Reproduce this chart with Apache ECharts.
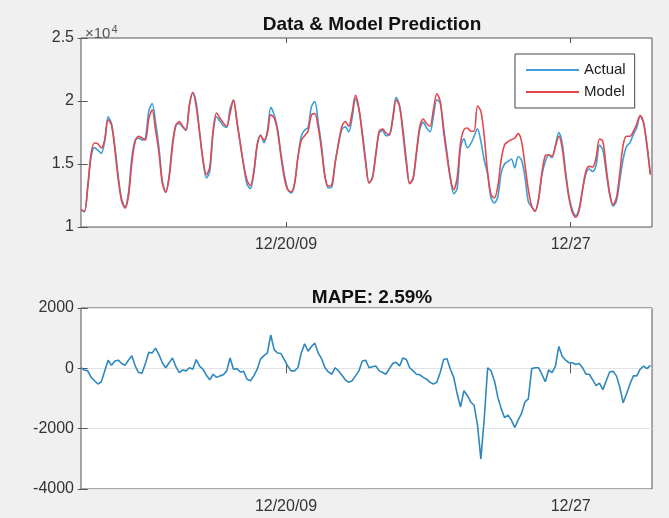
<!DOCTYPE html>
<html>
<head>
<meta charset="utf-8">
<title>Data & Model Prediction</title>
<script src="https://cdn.jsdelivr.net/npm/echarts@6/dist/echarts.min.js"></script>
<style>
  body { margin: 0; background: #f0f0f0; }
  #chart { width: 669px; height: 518px; }
</style>
</head>
<body>
<div id="chart"></div>
<script>
// samples every 2 hours, hour 0 = 12/15/09 00:00
var startHour = -1;
var stepHours = 2;

// x tick positions (hours) and their labels
var tickHours = [120, 288];
var tickLabels = ['12/20/09', '12/27'];

// electricity load (one row per day)
var actual = [
    11400, 11200, 13150, 15600, 16300, 16100, 15850, 16850, 18750, 18200, 16400, 14000,
    12200, 11600, 12700, 15500, 16900, 17050, 16900, 17050, 19200, 19800, 18300, 16300,
    13650, 12770, 14050, 16700, 18100, 18200, 17950, 17650, 19700, 20650, 19850, 17550,
    15300, 13900, 14400, 17500, 18750, 18400, 18050, 17900, 19400, 20050, 18400, 16550,
    14850, 13400, 13050, 14250, 16500, 17300, 16700, 17600, 19500, 18900, 17800, 15850,
    14150, 13000, 12700, 13350, 15500, 17200, 17700, 17900, 19550, 19950, 18300, 16400,
    14000, 13100, 13150, 15100, 16600, 17750, 17950, 17550, 18650, 20200, 19350, 17550,
    15350, 13500, 13950, 15800, 17500, 17650, 17250, 17300, 18700, 20300, 19650, 17800,
    15350, 13450, 13800, 15800, 17800, 18300, 17850, 17550, 18800, 20100, 19850, 17900,
    15900, 13850, 12650, 13050, 16300, 17000, 16300, 16600, 17200, 17800, 16800, 15300,
    14200, 12300, 11900, 12400, 14300, 15000, 15200, 15400, 14700, 15600, 15300, 14000,
    12000, 11600, 11250, 12200, 14100, 15200, 15700, 15500, 16500, 17500, 16650, 14400,
    12450, 11350, 10900, 11500, 12950, 14200, 14600, 14400, 14900, 16500, 16100, 14300,
    12600, 11650, 12050, 13700, 15400, 16400, 16700, 17350, 17900, 18800, 18300, 16500, 14250
];

var model = [
    11380, 11250, 13230, 15870, 16670, 16600, 16270, 16900, 18500, 18100, 16140, 13760,
    12040, 11500, 12430, 15080, 16800, 17200, 17060, 16900, 18600, 19300, 17700, 15900,
    13490, 12750, 13890, 16400, 18070, 18360, 18000, 17720, 19700, 20690, 19580, 17460,
    15340, 14150, 14760, 17720, 19050, 18650, 18250, 18000, 19050, 20100, 18400, 16670,
    14950, 13700, 13280, 14420, 16530, 17250, 16880, 17460, 18900, 18650, 17590, 15610,
    13890, 12960, 12800, 13440, 15480, 16880, 17250, 17600, 18900, 19000, 17900, 16100,
    14000, 13230, 13360, 15080, 16670, 18000, 18360, 18000, 19050, 20450, 19440, 17330,
    15080, 13490, 13890, 15740, 17600, 17780, 17460, 17330, 18520, 20100, 19580, 17460,
    15080, 13440, 13890, 16000, 18000, 18570, 18200, 18000, 19310, 20580, 19970, 17590,
    15610, 13890, 12960, 13890, 16670, 17720, 17860, 17600, 17600, 19600, 19200, 17200,
    14290, 12570, 12300, 13230, 15340, 16530, 16770, 16930, 17060, 17410, 16800, 14950,
    12960, 11640, 11240, 12170, 14290, 15660, 15740, 15610, 16400, 17200, 16270, 14150,
    12300, 11160, 10770, 11320, 12960, 14420, 14810, 14760, 15480, 16980, 16800, 14680,
    12700, 11770, 12300, 14290, 16530, 17200, 17200, 17590, 18170, 18840, 18250, 16530, 14150
];

// prediction error
var error = [
    20, -55, -85, -300, -410, -520, -445, -85, 270, 100, 240, 270,
    160, 100, 270, 420, 75, -140, -160, 160, 530, 510, 670, 455,
    185, 20, 185, 345, 55, -140, -55, -85, 20, -30, 290, 75,
    -30, -230, -380, -195, -300, -250, -215, -85, 345, -30, -10, -120,
    -100, -360, -410, -250, -30, 315, 420, 510, 1105, 620, 510, 490,
    290, 75, -85, -85, 20, 510, 815, 565, 725, 835, 510, 315,
    20, -120, -195, 20, -85, -230, -380, -465, -410, -250, -85, 240,
    270, 20, 55, 75, -85, -140, -195, -10, 160, 205, 75, 345,
    290, 20, -85, -195, -215, -300, -360, -465, -520, -465, -140, 290,
    315, -30, -300, -845, -1280, -740, -900, -1115, -1225, -1875, -3000, -1660,
    20, -85, -410, -955, -1335, -1635, -1550, -1715, -1960, -1715, -1495, -1115,
    -1010, -10, 20, 20, -195, -445, -55, -140, 75, 725, 400, 270,
    185, 185, 130, 160, 20, -195, -195, -380, -575, -490, -705, -410,
    -120, -100, -250, -630, -1140, -845, -520, -250, -250, -30, 75, -10, 100
];

var hours = [];
for (let i = 0; i < model.length; i++) {
    hours.push(startHour + i * stepHours);
}

function pairs(values) {
    var out = [];
    for (let i = 0; i < values.length; i++) {
        out.push([hours[i], values[i]]);
    }
    return out;
}

var font = "'Liberation Sans', Arial, sans-serif";
var boxColor = '#555';

function dateLabel(v) {
    var k = tickHours.indexOf(v);
    return k >= 0 ? tickLabels[k] : '';
}

// bottom x axis with labels, top x axis with ticks only (MATLAB box look)
function xAxes(grid) {
    return [
        {
            type: 'value', gridIndex: grid, min: -1, max: 336, position: 'bottom',
            axisLine: { show: false },
            axisTick: { inside: true, length: 5, customValues: tickHours, lineStyle: { color: boxColor } },
            axisLabel: { customValues: tickHours, formatter: dateLabel, color: '#333', fontSize: 16, margin: 10 },
            splitLine: { show: false }
        },
        {
            type: 'value', gridIndex: grid, min: -1, max: 336, position: 'top',
            axisLine: { show: false },
            axisTick: { inside: true, length: 5, customValues: tickHours, lineStyle: { color: boxColor } },
            axisLabel: { show: false },
            splitLine: { show: false }
        }
    ];
}

function yAxes(grid, min, max, interval, fmt, grid_lines) {
    return [
        {
            type: 'value', gridIndex: grid, min: min, max: max, interval: interval, position: 'left',
            axisLine: { show: false },
            axisTick: { inside: true, length: 5, lineStyle: { color: boxColor } },
            axisLabel: { formatter: fmt, color: '#333', fontSize: 16, margin: 7 },
            splitLine: { show: grid_lines, lineStyle: { color: '#e3e3e3' } }
        },
        {
            type: 'value', gridIndex: grid, min: min, max: max, interval: interval, position: 'right',
            axisLine: { show: false },
            axisTick: { inside: true, length: 5, lineStyle: { color: boxColor } },
            axisLabel: { show: false },
            splitLine: { show: false }
        }
    ];
}

var myChart = echarts.init(document.getElementById('chart'));
var option = {
    animation: false,
    backgroundColor: '#f0f0f0',
    textStyle: { fontFamily: font },
    title: [
        {
            text: 'Data & Model Prediction', left: 367, top: 10, textAlign: 'center',
            textStyle: { fontSize: 19, fontWeight: 'bold', color: '#111', fontFamily: font }
        },
        {
            text: 'MAPE: 2.59%', left: 367, top: 283, textAlign: 'center',
            textStyle: { fontSize: 19, fontWeight: 'bold', color: '#111', fontFamily: font }
        },
        {
            text: '{a|×10}{b|4}', left: 80, top: 19,
            textStyle: {
                fontWeight: 'normal',
                rich: {
                    a: { fontSize: 15, fontWeight: 'normal', color: '#555', fontFamily: font },
                    b: { fontSize: 11, fontWeight: 'normal', color: '#555', fontFamily: font,
                         verticalAlign: 'top', padding: [0, 0, 8, 1] }
                }
            }
        }
    ],
    legend: {
        data: ['Actual', 'Model'],
        orient: 'vertical',
        left: 515, top: 54,
        padding: [7, 9, 7, 11],
        icon: 'rect',
        itemWidth: 53, itemHeight: 2, itemGap: 4,
        backgroundColor: '#fff',
        borderColor: '#444', borderWidth: 1,
        textStyle: { fontSize: 15, color: '#222', fontFamily: font, lineHeight: 18 }
    },
    grid: [
        { left: 81, top: 38, right: 17, height: 189, show: true, backgroundColor: '#fff',
          borderColor: boxColor, borderWidth: 1, outerBoundsMode: 'none' },
        { left: 81, top: 308, right: 17, height: 181, show: true, backgroundColor: '#fff',
          borderColor: boxColor, borderWidth: 1, outerBoundsMode: 'none' }
    ],
    xAxis: xAxes(0).concat(xAxes(1)),
    yAxis: yAxes(0, 10000, 25000, 5000, function (v) { return String(v / 10000); }, false)
        .concat(yAxes(1, -4000, 2000, 2000, function (v) { return String(v); }, true)),
    series: [
        {
            name: 'Actual', type: 'line', xAxisIndex: 0, yAxisIndex: 0,
            data: pairs(actual), symbol: 'none', smooth: 0.3,
            lineStyle: { color: '#3d9fd6', width: 1.6 }, itemStyle: { color: '#3d9fd6' }
        },
        {
            name: 'Model', type: 'line', xAxisIndex: 0, yAxisIndex: 0,
            data: pairs(model), symbol: 'none', smooth: 0.3,
            lineStyle: { color: '#e4474d', width: 1.6 }, itemStyle: { color: '#e4474d' }
        },
        {
            name: 'Error', type: 'line', xAxisIndex: 2, yAxisIndex: 2,
            data: pairs(error), symbol: 'none',
            lineStyle: { color: '#2f88bd', width: 1.6 }, itemStyle: { color: '#2f88bd' }
        }
    ]
};
myChart.setOption(option);
</script>
</body>
</html>
